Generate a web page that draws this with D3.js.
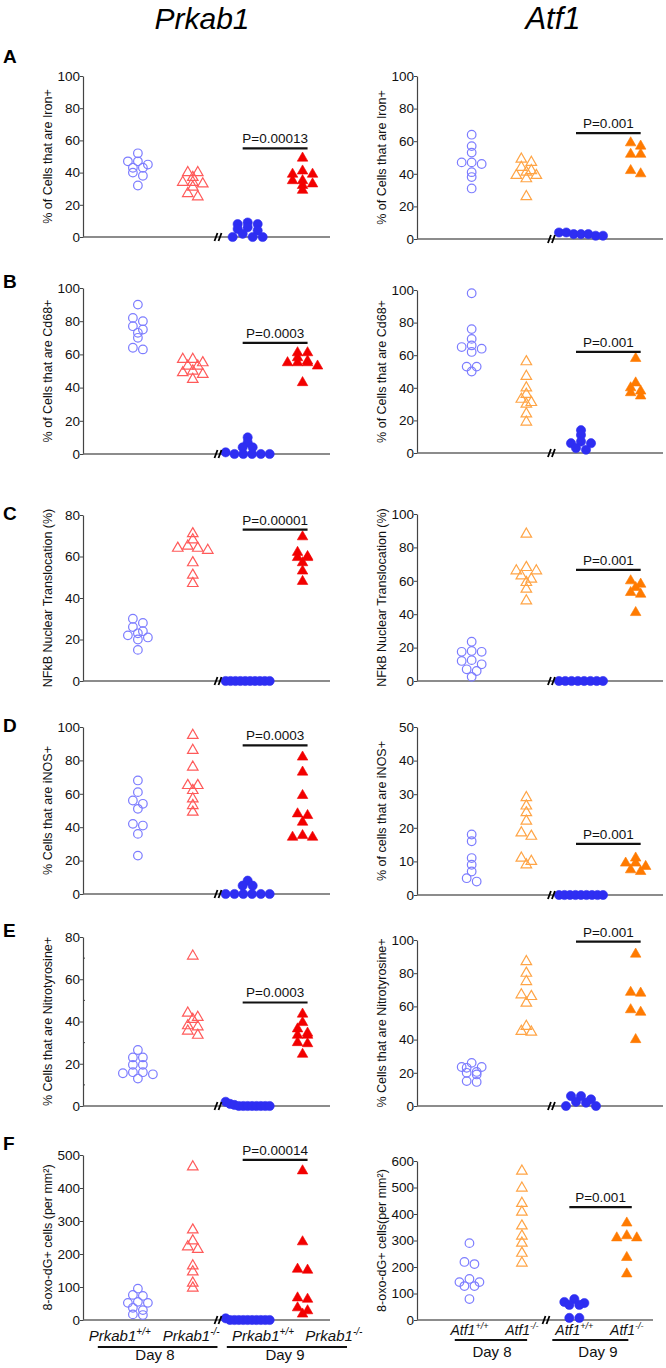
<!DOCTYPE html>
<html><head><meta charset="utf-8">
<script src="https://cdn.jsdelivr.net/npm/d3@7"></script>
<style>
body{margin:0;background:#fff}
svg{display:block}
text{font-family:"Liberation Sans",Arial,sans-serif}
</style>
</head><body>
<svg id="chart" width="666" height="1368"></svg>
<script>
// ---------------- DATA ----------------
const genes = ["Prkab1", "Atf1"];
const panelLetters = ["A", "B", "C", "D", "E", "F"];
const genotypes = ["+/+", "-/-", "+/+", "-/-"];
const days = ["Day 8", "Day 9"];

// groups: [+/+ day8, -/- day8, +/+ day9, -/- day9]
const ironPrkab1 = [[52,47,47,45,43,43,40,38,32],[40,40,37,34,34,33,31,27,25],[9,8,8,6,5,4,2,0,0,0],[49,41,39,39,35,35,33,32,29]];
const ironAtf1   = [[64,57,53,47,47,46,41,38,31],[49,47,44,42,41,39,39,37,26],[4,4,3,3,3,2,2],[59,57,52,52,42,40]];
const cd68Prkab1 = [[90,82,80,77,75,73,70,64,63],[57,57,55,53,53,50,49,48,45],[10,7,4,4,1,0,0,0,0,0],[61,61,58,56,55,55,55,53,43]];
const cd68Atf1   = [[98,76,70,66,65,64,62,53,53,50],[56,47,40,36,33,31,30,24,19],[14,11,7,6,6,3,2],[58,43,40,38,37,35]];
const nfkbPrkab1 = [[30,28,26,24,23,22,21,20,15],[71,68,65,64,64,63,57,51,47],[0,0,0,0,0,0,0,0,0,0],[69.5,62,60,59.5,59.5,57,53,48]];
const nfkbAtf1   = [[23.5,18,17.5,17.5,12.5,12,10,7,6,2.5],[88,68,66,66,63,61,59,55,48],[0,0,0,0,0,0,0,0],[60,58,56,53,52,41]];
const inosPrkab1 = [[68,61,56,54,51,42,41,36,23],[95,86,76,65,65,62,57,53,49],[8,5,5,0,0,0,0,0,0],[82,73,59,48,47,43,35,34,34]];
const inosAtf1   = [[18,16,11,9,7,5,4],[29,26.5,24.5,22,18.5,17.5,11,10,9],[0,0,0,0,0,0,0,0,0],[11,9.5,9.5,8.5,7.5,7]];
const nitroPrkab1 = [[26.5,23,23,19.5,19.5,16,16,15.5,15,13],[71,44,42,41,38,37.5,35.5,33.5],[2,1,0.5,0,0,0,0,0,0,0,0],[43.5,39.5,36.5,34.5,33.5,33.5,30,29.5,24.5]];
const nitroAtf1   = [[26,23.5,23.5,23,20.5,20,19,15,14.5],[87,80,75,67,66,62,48,45,44.5],[6,6,4,2.5,2,0,0],[91.5,68.5,68,58,56.5,40]];
const oxoPrkab1 = [[95,76,73,55,52,52,37,30,17,15],[464,273,240,222,214,164,146,112,97],[5,0,0,0,0,0,0,0,0,0,0],[452,237,154,151,67,63,37,28,18]];
const oxoAtf1   = [[290,219,211,155,143,143,128,128,79],[562,498,440,407,355,317,290,252,215],[79,68,64,57,57,8,8],[366,318,310,310,236,174]];

const seriesPrkab1 = [ironPrkab1, cd68Prkab1, nfkbPrkab1, inosPrkab1, nitroPrkab1, oxoPrkab1];
const seriesAtf1 = [ironAtf1, cd68Atf1, nfkbAtf1, inosAtf1, nitroAtf1, oxoAtf1];

const yLabelsPrkab1 = ["% of Cells that are Iron+","% of Cells that are Cd68+","NFkB Nuclear Translocation (%)","% Cells that are iNOS+","% Cells that are Nitrotyrosine+","8-oxo-dG+ cells (per mm²)"];
const yLabelsAtf1 = ["% of Cells that are Iron+","% of Cells that are Cd68+","NFkB Nuclear Translocation (%)","% of cells that are iNOS+","% Cells that are Nitrotyrosine+","8-oxo-dG+ cells(per mm²)"];

const yTicksPrkab1 = [[0,20,40,60,80,100],[0,20,40,60,80,100],[0,20,40,60,80],[0,20,40,60,80,100],[0,20,40,60,80],[0,100,200,300,400,500]];
const yTicksAtf1 = [[0,20,40,60,80,100],[0,20,40,60,80,100],[0,20,40,60,80,100],[0,10,20,30,40,50],[0,20,40,60,80,100],[0,100,200,300,400,500,600]];

const pValuesPrkab1 = ["P=0.00013","P=0.0003","P=0.00001","P=0.0003","P=0.0003","P=0.00014"];
const pValuesAtf1 = ["P=0.001","P=0.001","P=0.001","P=0.001","P=0.001","P=0.001"];
const pBarLevelPrkab1 = [55,67,73,89,49,485];
const pBarLevelAtf1 = [65,62,66.5,15.2,99,426];

// ---------------- LAYOUT / STYLE ----------------
const cols = [
  { gene: genes[0], series: seriesPrkab1, labels: yLabelsPrkab1, ticks: yTicksPrkab1, pv: pValuesPrkab1, pl: pBarLevelPrkab1,
    axisX: 83, axisEnd: [330,330,330,330,330,330], tops: [76,288,515,727,937,1155], zeros: [237,454,681,894,1106,1320],
    colors: ["#7d7dff","#ff5a5a","#2e2ef2","#f20000"], titleX: 202, titleSize: 30,
    geno: { pos: [0.67,1.97,3.28,4.57], y: 1341, size: 15, sup: 10 },
    dayLines: [[0.27,2.45],[2.62,4.81]], dayLineY: 1347, dayPos: [1.31,3.68], dayY: 1360 },
  { gene: genes[1], series: seriesAtf1, labels: yLabelsAtf1, ticks: yTicksAtf1, pv: pValuesAtf1, pl: pBarLevelAtf1,
    axisX: 417, axisEnd: [663,663,663,663,663,653], tops: [76,290,514,727,940,1161], zeros: [239,453,681,895,1106,1320],
    colors: ["#7d7dff","#ffa445","#2e2ef2","#ff7a00"], titleX: 553, titleSize: 31,
    geno: { pos: [1,2,3,4], y: 1335, size: 14, sup: 9 },
    dayLines: [[0.72,2.1],[2.58,4.03]], dayLineY: 1340, dayPos: [1.43,3.45], dayY: 1357 }
];
const letterY = [63, 288, 520, 732, 937, 1150];
const svg = d3.select("#chart");

function dodge(vals, y, sMax, maxW, bin) {
  const idx = vals.map((v, i) => i).sort((a, b) => vals[b] - vals[a]);
  const out = new Array(vals.length);
  let i = 0;
  while (i < idx.length) {
    const start = y(vals[idx[i]]);
    let j = i + 1;
    while (j < idx.length && Math.abs(y(vals[idx[j]]) - start) <= bin) j++;
    const n = j - i;
    const s = n > 1 ? Math.min(sMax, maxW / (n - 1)) : 0;
    const offs = [];
    if (n > 5) { for (let k = 0; k < n; k++) offs.push((k - (n - 1) / 2) * s); }
    else if (n % 2 === 1) { offs.push(0); for (let k = 1; offs.length < n; k++) { offs.push(-k * s); if (offs.length < n) offs.push(k * s); } }
    else { for (let k = 0; offs.length < n; k++) { offs.push(-(k + 0.5) * s); offs.push((k + 0.5) * s); } }
    for (let k = 0; k < n; k++) out[idx[i + k]] = offs[k];
    i = j;
  }
  return out;
}

// Titles
cols.forEach(c => {
  svg.append("text").attr("x", c.titleX).attr("y", 29).attr("text-anchor", "middle")
    .attr("font-size", c.titleSize).attr("font-style", "italic").attr("fill", "#000").text(c.gene);
});
// Panel letters
panelLetters.forEach((L, r) => {
  svg.append("text").attr("x", 3).attr("y", letterY[r]).attr("font-size", 19).attr("font-weight", "bold").text(L);
});

cols.forEach((c, ci) => {
  c.series.forEach((groups, r) => {
    const ticks = c.ticks[r];
    const y = d3.scaleLinear().domain([0, d3.max(ticks)]).range([c.zeros[r], c.tops[r]]);
    const x = d3.scaleLinear().domain([0, 4.5]).range([c.axisX, c.axisEnd[r]]);
    const g = svg.append("g");

    // y axis
    const ya = g.append("g").attr("transform", `translate(${c.axisX},0)`)
      .call(d3.axisLeft(y).tickValues(ticks).tickSize(3).tickSizeOuter(0).tickPadding(0).tickFormat(d3.format("d")));
    ya.select(".domain").attr("stroke", "#444").attr("stroke-width", 1.2);
    ya.selectAll(".tick line").attr("stroke", "#444");
    ya.selectAll(".tick text").attr("font-size", 13.5).attr("fill", "#111")
      .attr("font-family", "'Liberation Sans',Arial,sans-serif");
    if (ci === 0 && r === 4) {
      const minor = d3.range(10, 80, 20);
      g.selectAll(".minor").data(minor).join("line")
        .attr("x1", c.axisX).attr("x2", c.axisX + 2).attr("y1", d => y(d)).attr("y2", d => y(d))
        .attr("stroke", "#444").attr("stroke-width", 1);
    }
    // x axis line
    g.append("line").attr("x1", c.axisX).attr("x2", c.axisEnd[r]).attr("y1", y(0)).attr("y2", y(0))
      .attr("stroke", "#666").attr("stroke-width", 1.3);

    // y label
    g.append("text").attr("transform", `translate(${c.axisX - 31},${(c.tops[r] + c.zeros[r]) / 2}) rotate(-90)`)
      .attr("text-anchor", "middle").attr("font-size", 12.5).attr("fill", "#111").text(c.labels[r]);

    // points
    groups.forEach((vals, gi) => {
      const offs = dodge(vals, y, 10, 44, 4.5);
      const cx = x(gi + 1);
      const col = c.colors[gi];
      const pts = vals.map((v, i) => ({ v, dx: offs[i] }));
      if (gi === 0 || gi === 2) {
        g.selectAll(null).data(pts).join("circle")
          .attr("cx", d => cx + d.dx).attr("cy", d => y(d.v)).attr("r", gi === 0 ? 4.3 : 4.6)
          .attr("fill", gi === 0 ? "none" : col).attr("stroke", col).attr("stroke-width", gi === 0 ? 1.2 : 0.6);
      } else {
        const sym = d3.symbol(d3.symbolTriangle, 48);
        g.selectAll(null).data(pts).join("path")
          .attr("d", sym).attr("transform", d => `translate(${cx + d.dx},${y(d.v)})`)
          .attr("fill", gi === 1 ? "none" : col).attr("stroke", col).attr("stroke-width", gi === 1 ? 1.2 : 0.6);
      }
    });

    // break marks (drawn on top)
    const bx = x(2.45);
    [0, 4].forEach(dx => {
      g.append("line").attr("x1", bx - 3 + dx).attr("y1", y(0) + 4).attr("x2", bx + dx).attr("y2", y(0) - 4)
        .attr("stroke", "#000").attr("stroke-width", 1.8);
    });

    // p-value bar
    const py = y(c.pl[r]);
    g.append("line").attr("x1", x(3) - 5).attr("x2", x(4) + 5).attr("y1", py).attr("y2", py)
      .attr("stroke", "#111").attr("stroke-width", 2.2);
    g.append("text").attr("x", (x(3) + x(4)) / 2).attr("y", py - 5).attr("text-anchor", "middle")
      .attr("font-size", 13.5).attr("fill", "#111").text(c.pv[r]);

    // bottom group labels on last row
    if (r === 5) {
      genotypes.forEach((gt, k) => {
        const t = g.append("text").attr("x", x(c.geno.pos[k])).attr("y", c.geno.y).attr("text-anchor", "middle")
          .attr("font-size", c.geno.size).attr("font-style", "italic").attr("fill", "#111");
        t.append("tspan").text(c.gene);
        t.append("tspan").attr("dy", -6).attr("font-size", c.geno.sup).text(gt);
      });
      c.dayLines.forEach((sp, k) => {
        g.append("line").attr("x1", x(sp[0])).attr("x2", x(sp[1])).attr("y1", c.dayLineY).attr("y2", c.dayLineY)
          .attr("stroke", "#111").attr("stroke-width", 2.2);
        g.append("text").attr("x", x(c.dayPos[k])).attr("y", c.dayY).attr("text-anchor", "middle")
          .attr("font-size", 15).attr("fill", "#111").text(days[k]);
      });
    }
  });
});
</script>
</body></html>
